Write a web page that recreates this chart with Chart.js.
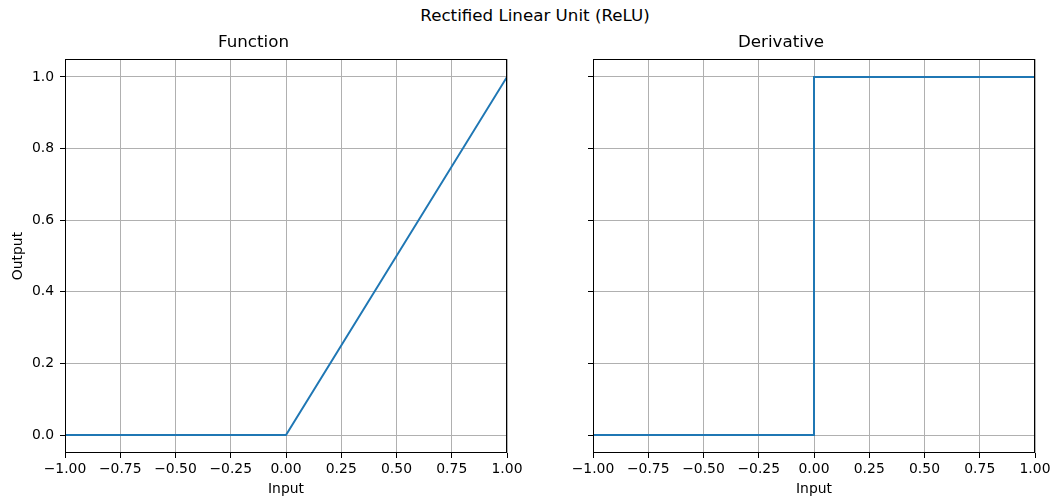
<!DOCTYPE html>
<html>
<head>
<meta charset="utf-8">
<script src="https://cdn.jsdelivr.net/npm/chart.js@4.4.0/dist/chart.umd.min.js"></script>
<style>
  body { margin: 0; background: #fff; overflow: hidden; }
  #wrap { position: relative; width: 1054px; height: 500px; font-family: "DejaVu Sans", sans-serif; }
  #suptitle { position: absolute; left: 16px; top: 5px; width: 1038px; text-align: center; font-size: 16.7px; line-height: 20px; color: #000; }
  #fnChart { position: absolute; left: 0; top: 0; }
  #derivChart { position: absolute; left: 527px; top: 0; }
</style>
</head>
<body>
<div id="wrap">
  <div id="suptitle">Rectified Linear Unit (ReLU)</div>
  <canvas id="fnChart" width="530" height="500"></canvas>
  <canvas id="derivChart" width="527" height="500"></canvas>
</div>
<script>
// data
const inputs = [-1, 0, 1];
const reluOutput = [0, 0, 1];
const derivInputs = [-1, 0, 0, 1];
const derivOutput = [0, 0, 1, 1];
const xTicks = [-1, -0.75, -0.5, -0.25, 0, 0.25, 0.5, 0.75, 1];
const yTicks = [0, 0.2, 0.4, 0.6, 0.8, 1.0];

const FONT = "DejaVu Sans";
const LINE = "#1f77b4";
const GRID = "#b0b0b0";

const fmtX = v => v.toFixed(2).replace("-", "\u2212");
const fmtY = v => v.toFixed(1).replace("-", "\u2212");

// draws the box round the plot area (matplotlib spines)
const framePlugin = {
    id: "frame",
    afterDraw(chart) {
        const a = chart.chartArea;
        const ctx = chart.ctx;
        ctx.save();
        ctx.strokeStyle = "#000";
        ctx.lineWidth = 1;
        const l = Math.round(a.left) + 0.5, t = Math.round(a.top) + 0.5;
        const r = Math.round(a.right) - 0.5, b = Math.round(a.bottom) - 0.5;
        ctx.strokeRect(l, t, r - l, b - t);
        ctx.restore();
    }
};

function makeChart(id, title, xs, ys, showYLabels, yWidth, rightPad) {
    const points = xs.map((x, i) => ({ x: x, y: ys[i] }));
    return new Chart(document.getElementById(id), {
        type: "line",
        data: {
            datasets: [{
                data: points,
                borderColor: LINE,
                borderWidth: 2,
                pointRadius: 0,
                tension: 0,
                fill: false
            }]
        },
        options: {
            responsive: false,
            animation: false,
            layout: { padding: { top: 0, right: rightPad, bottom: 0, left: 0 } },
            plugins: {
                legend: { display: false },
                tooltip: { enabled: false },
                title: {
                    display: true,
                    text: title,
                    color: "#000",
                    font: { family: FONT, size: 16.7, weight: "normal" },
                    padding: { top: 32.5, bottom: 6.5 }
                }
            },
            scales: {
                x: {
                    type: "linear",
                    min: -1,
                    max: 1,
                    afterBuildTicks: s => { s.ticks = xTicks.map(v => ({ value: v })); },
                    afterFit: s => { s.height = 47; },
                    ticks: {
                        callback: v => fmtX(v),
                        color: "#000",
                        font: { family: FONT, size: 13.9 },
                        padding: 3,
                        maxRotation: 0,
                        autoSkip: false
                    },
                    grid: { color: GRID, lineWidth: 1, tickColor: "#000", tickLength: 5 },
                    border: { display: false },
                    title: {
                        display: true,
                        text: "Input",
                        color: "#000",
                        font: { family: FONT, size: 13.9 },
                        padding: { top: 0, bottom: 2 }
                    }
                },
                y: {
                    type: "linear",
                    min: -0.05,
                    max: 1.05,
                    afterBuildTicks: s => { s.ticks = yTicks.map(v => ({ value: v })); },
                    afterFit: s => { s.width = yWidth; },
                    ticks: {
                        display: showYLabels,
                        callback: v => fmtY(v),
                        color: "#000",
                        font: { family: FONT, size: 13.9 },
                        padding: 6
                    },
                    grid: { color: GRID, lineWidth: 1, tickColor: "#000", tickLength: 5 },
                    border: { display: false },
                    title: {
                        display: showYLabels,
                        text: "Output",
                        color: "#000",
                        font: { family: FONT, size: 13.9 },
                        padding: { top: 9.6, bottom: 0 }
                    }
                }
            }
        },
        plugins: [framePlugin]
    });
}

makeChart("fnChart", "Function", inputs, reluOutput, true, 65, 23);
makeChart("derivChart", "Derivative", derivInputs, derivOutput, false, 66, 19);
</script>
</body>
</html>
